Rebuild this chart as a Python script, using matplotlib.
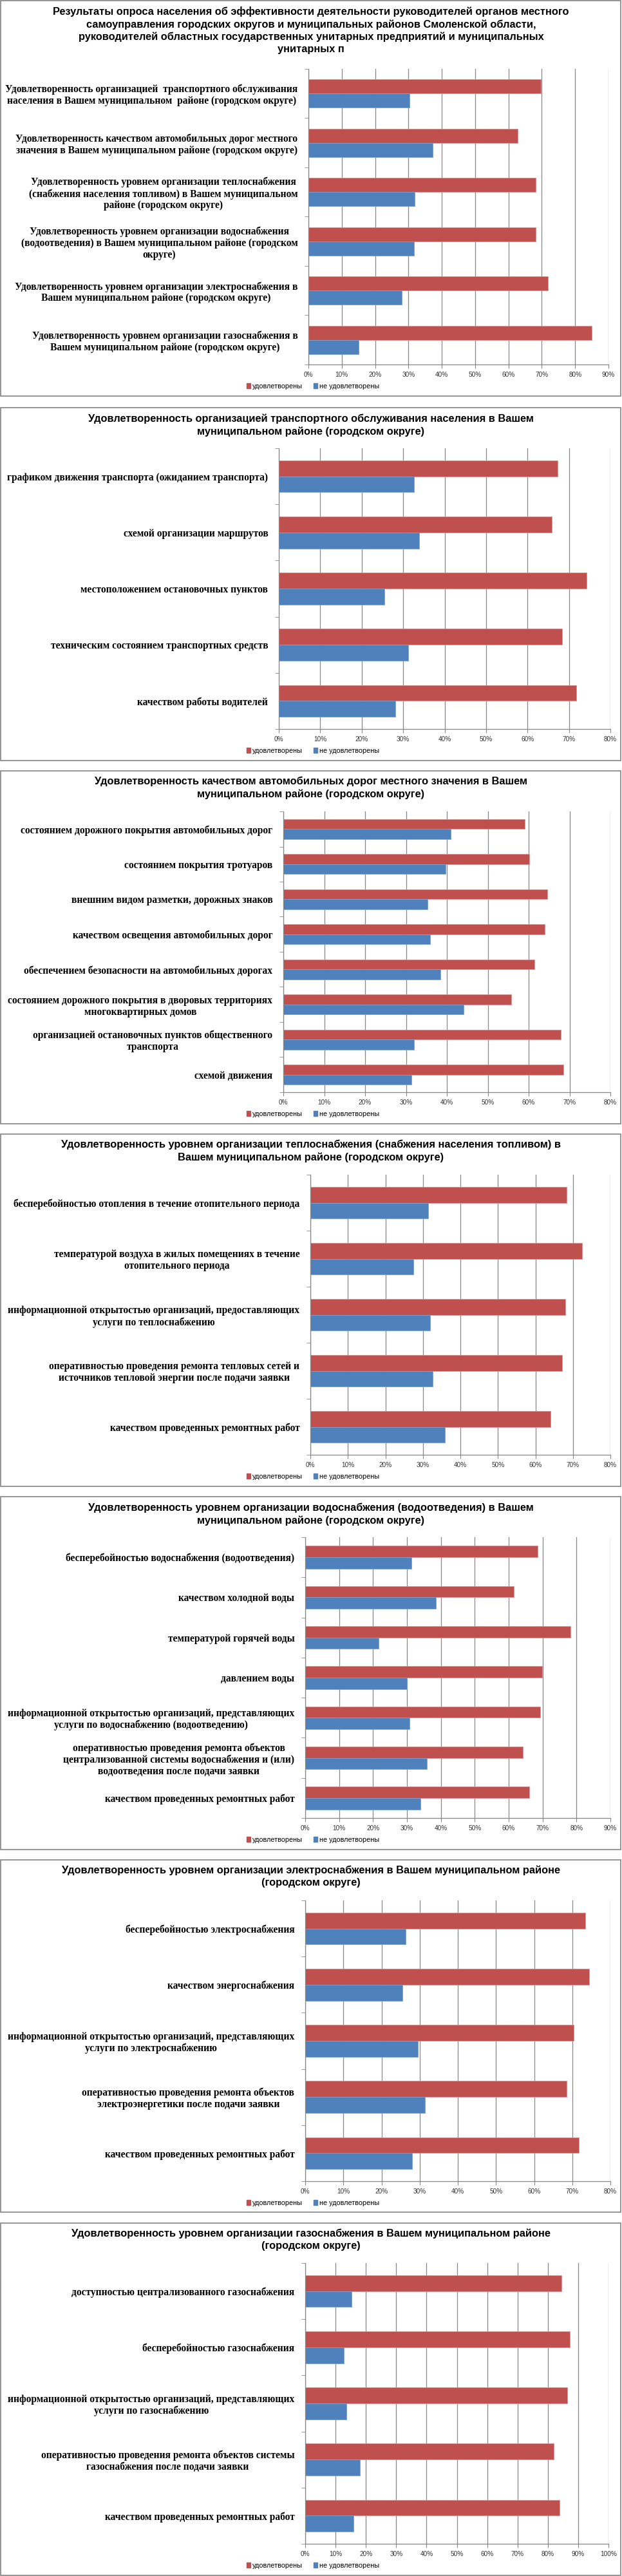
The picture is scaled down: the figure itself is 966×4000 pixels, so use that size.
import matplotlib
matplotlib.use("Agg")
import matplotlib.pyplot as plt
import numpy as np
from matplotlib import font_manager
from matplotlib.patches import Rectangle, Patch
from matplotlib.ticker import FuncFormatter

W, H = 966, 4000

names = {f.name for f in font_manager.fontManager.ttflist}
narrow = 'Liberation Sans Narrow' if 'Liberation Sans Narrow' in names else 'Liberation Sans'
serif = 'Liberation Serif'

RED = '#C0504D'
BLUE = '#4F81BD'
GRID = '#868686'

series_names = ['удовлетворены', 'не удовлетворены']

# --- chart 1: summary
title1 = ('Результаты опроса населения об эффективности деятельности руководителей органов местного\n'
          'самоуправления городских округов и муниципальных районов Смоленской области,\n'
          'руководителей областных государственных унитарных предприятий и муниципальных\n'
          'унитарных п')
cats1 = ['Удовлетворенность организацией  транспортного обслуживания\nнаселения в Вашем муниципальном  районе (городском округе)',
         'Удовлетворенность качеством автомобильных дорог местного\nзначения в Вашем муниципальном районе (городском округе)',
         'Удовлетворенность уровнем организации теплоснабжения\n(снабжения населения топливом) в Вашем муниципальном\nрайоне (городском округе)',
         'Удовлетворенность уровнем организации водоснабжения\n(водоотведения) в Вашем муниципальном районе (городском\nокруге)',
         'Удовлетворенность уровнем организации электроснабжения в\nВашем муниципальном районе (городском округе)',
         'Удовлетворенность уровнем организации газоснабжения в\nВашем муниципальном районе (городском округе)']
sat1 = [69.7, 62.7, 68.1, 68.2, 71.9, 84.9]
unsat1 = [30.3, 37.2, 31.8, 31.7, 28.1, 15.1]

# --- chart 2: transport
title2 = 'Удовлетворенность организацией транспортного обслуживания населения в Вашем\nмуниципальном районе (городском округе)'
cats2 = ['графиком движения транспорта (ожиданием транспорта)',
         'схемой организации маршрутов',
         'местоположением остановочных пунктов',
         'техническим состоянием транспортных средств',
         'качеством работы водителей']
sat2 = [67.2, 65.8, 74.2, 68.4, 71.7]
unsat2 = [32.6, 33.9, 25.5, 31.3, 28.1]

# --- chart 3: roads
title3 = 'Удовлетворенность качеством автомобильных дорог местного значения в Вашем\nмуниципальном районе (городском округе)'
cats3 = ['состоянием дорожного покрытия автомобильных дорог',
         'состоянием покрытия тротуаров',
         'внешним видом разметки, дорожных знаков',
         'качеством освещения автомобильных дорог',
         'обеспечением безопасности на автомобильных дорогах',
         'состоянием дорожного покрытия в дворовых территориях\nмногоквартирных домов',
         'организацией остановочных пунктов общественного\nтранспорта',
         'схемой движения']
sat3 = [59.0, 60.2, 64.6, 63.9, 61.4, 55.7, 67.8, 68.5]
unsat3 = [40.9, 39.7, 35.2, 35.9, 38.4, 44.1, 31.9, 31.4]

# --- chart 4: heat
title4 = 'Удовлетворенность уровнем организации теплоснабжения (снабжения населения топливом) в\nВашем муниципальном районе (городском округе)'
cats4 = ['бесперебойностью отопления в течение отопительного периода',
         'температурой воздуха в жилых помещениях в течение\nотопительного периода',
         'информационной открытостью организаций, предоставляющих\nуслуги по теплоснабжению',
         'оперативностью проведения ремонта тепловых сетей и\nисточников тепловой энергии после подачи заявки',
         'качеством проведенных ремонтных работ']
sat4 = [68.4, 72.4, 67.9, 67.2, 64.0]
unsat4 = [31.4, 27.4, 32.0, 32.6, 35.8]

# --- chart 5: water
title5 = 'Удовлетворенность уровнем организации водоснабжения (водоотведения) в Вашем\nмуниципальном районе (городском округе)'
cats5 = ['бесперебойностью водоснабжения (водоотведения)',
         'качеством холодной воды',
         'температурой горячей воды',
         'давлением воды',
         'информационной открытостью организаций, представляющих\nуслуги по водоснабжению (водоотведению)',
         'оперативностью проведения ремонта объектов\nцентрализованной системы водоснабжения и (или)\nводоотведения после подачи заявки',
         'качеством проведенных ремонтных работ']
sat5 = [68.6, 61.5, 78.2, 69.8, 69.3, 64.1, 66.0]
unsat5 = [31.4, 38.5, 21.7, 30.0, 30.7, 35.9, 34.0]

# --- chart 6: electricity
title6 = 'Удовлетворенность уровнем организации электроснабжения в Вашем муниципальном районе\n(городском округе)'
cats6 = ['бесперебойностью электроснабжения',
         'качеством энергоснабжения',
         'информационной открытостью организаций, представляющих\nуслуги по электроснабжению',
         'оперативностью проведения ремонта объектов\nэлектроэнергетики после подачи заявки',
         'качеством проведенных ремонтных работ']
sat6 = [73.5, 74.4, 70.4, 68.5, 71.8]
unsat6 = [26.3, 25.5, 29.5, 31.4, 28.1]

# --- chart 7: gas
title7 = 'Удовлетворенность уровнем организации газоснабжения в Вашем муниципальном районе\n(городском округе)'
cats7 = ['доступностью централизованного газоснабжения',
         'бесперебойностью газоснабжения',
         'информационной открытостью организаций, представляющих\nуслуги по газоснабжению',
         'оперативностью проведения ремонта объектов системы\nгазоснабжения после подачи заявки',
         'качеством проведенных ремонтных работ']
sat7 = [84.5, 87.2, 86.4, 81.9, 83.9]
unsat7 = [15.3, 12.8, 13.5, 18.0, 16.0]

# layout in pixels: box top/bottom, first title line centre, plot left/right/top/bottom, x max
charts = [
    (title1, cats1, sat1, unsat1, (1, 615), 20, (479, 945, 107, 566), 90),
    (title2, cats2, sat2, unsat2, (633, 1181), 653, (433, 948, 696, 1132), 80),
    (title3, cats3, sat3, unsat3, (1197, 1745), 1216, (440, 948, 1260, 1696), 80),
    (title4, cats4, sat4, unsat4, (1761, 2308), 1780, (482, 948, 1824, 2259), 80),
    (title5, cats5, sat5, unsat5, (2324, 2872), 2344, (474, 948, 2387, 2823), 90),
    (title6, cats6, sat6, unsat6, (2888, 3435), 2907, (474, 948, 2951, 3387), 80),
    (title7, cats7, sat7, unsat7, (3452, 3999), 3471, (474, 945, 3514, 3950), 100),
]

fig = plt.figure(figsize=(W / 100, H / 100), dpi=100)
fig.patch.set_facecolor('white')


def fx(px):
    return px / W


def fy(py):
    return 1 - py / H


bar_h = 0.285

for title, cats, sat, unsat, (btop, bbot), ty, (l, r, t, b), xmax in charts:
    # frame
    fig.patches.append(Rectangle((fx(1), fy(bbot)), fx(963), (bbot - btop) / H,
                                 transform=fig.transFigure, fill=False,
                                 edgecolor='#8c8c8c', linewidth=1.3))
    fig.text(fx(483), fy(ty - 10), title, ha='center', va='top', family=narrow,
             fontweight='bold', fontsize=11.8, linespacing=1.32)

    ax = fig.add_axes([fx(l), fy(b), (r - l) / W, (b - t) / H])
    n = len(cats)
    y = np.arange(n)
    ax.barh(y - bar_h / 2, sat, height=bar_h, color=RED, edgecolor='#d9969a', linewidth=0.6)
    ax.barh(y + bar_h / 2, unsat, height=bar_h, color=BLUE, edgecolor='#7fa1cf', linewidth=0.6)
    ax.set_ylim(n - 0.5, -0.5)
    ax.set_xlim(0, xmax)
    ax.set_xticks(np.arange(0, xmax + 1, 10))
    ax.xaxis.set_major_formatter(FuncFormatter(lambda v, p: f'{int(v)}%'))
    ax.set_yticks(y)
    ax.set_yticklabels(cats, family=serif, fontweight='bold', fontsize=11.2,
                       multialignment='center', linespacing=1.15)
    ax.set_yticks(np.arange(-0.5, n, 1), minor=True)
    ax.tick_params(axis='y', which='major', length=0, pad=12)
    ax.tick_params(axis='y', which='minor', length=4, color=GRID, direction='out')
    ax.tick_params(axis='x', length=4, color=GRID, labelsize=7.2, labelcolor='#333333', pad=4)
    for lab in ax.get_xticklabels():
        lab.set_family(narrow)
    ax.grid(axis='x', color=GRID, linewidth=0.9)
    ax.set_axisbelow(True)
    for s in ['top', 'right']:
        ax.spines[s].set_visible(False)
    for s in ['left', 'bottom']:
        ax.spines[s].set_color(GRID)
        ax.spines[s].set_linewidth(0.9)

    handles = [Patch(color=RED), Patch(color=BLUE)]
    fig.legend(handles, series_names, loc='center', bbox_to_anchor=(fx(486), fy(b + 34)),
               ncol=2, frameon=False, handlelength=0.55, handleheight=0.8,
               handletextpad=0.3, columnspacing=1.6,
               prop={'family': narrow, 'size': 7.8})

fig.savefig('out.png', dpi=100, facecolor='white')
